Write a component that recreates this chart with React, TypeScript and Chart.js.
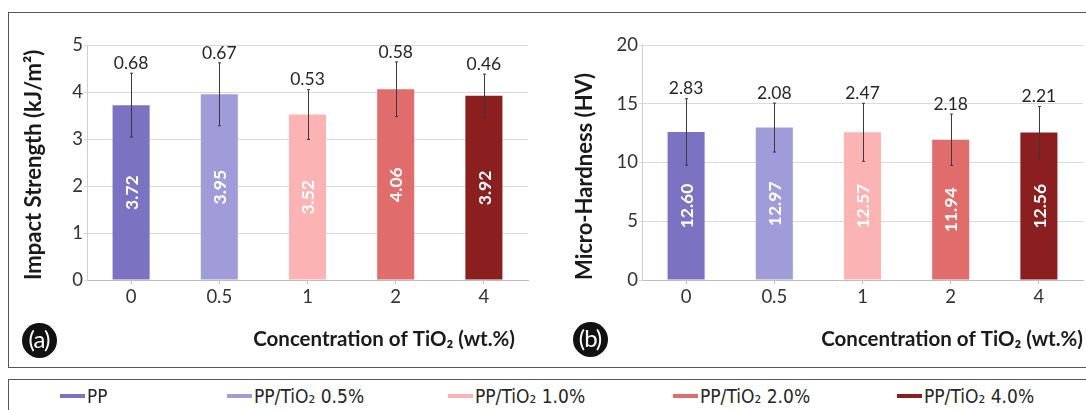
import React, { useEffect, useRef } from "react";
import { Chart, registerables } from "chart.js";

Chart.register(...registerables);

// ---------- data ----------
const categories = ["0", "0.5", "1", "2", "4"];
const seriesNames = ["PP", "PP/TiO₂ 0.5%", "PP/TiO₂ 1.0%", "PP/TiO₂ 2.0%", "PP/TiO₂ 4.0%"];
const seriesColors = ["#7b73c1", "#a09cda", "#fbb3b3", "#e06c6c", "#8b1f1f"];

const impactMeans = [3.72, 3.95, 3.52, 4.06, 3.92];
const impactErrors = [0.68, 0.67, 0.53, 0.58, 0.46];
const impactAxis = { max: 5, step: 1 };

const hardnessMeans = [12.6, 12.97, 12.57, 11.94, 12.56];
const hardnessErrors = [2.83, 2.08, 2.47, 2.18, 2.21];
const hardnessAxis = { max: 20, step: 5 };

const impactTitle = "Impact Strength (kJ/m²)";
const hardnessTitle = "Micro-Hardness (HV)";
const xTitle = "Concentration of TiO₂ (wt.%)";

// ---------- layout ----------
const FONT = "Lato, 'Open Sans', sans-serif";
const PLOT_TOP = 45;
const PLOT_BOTTOM = 280;
const CANVAS_H = 368;
const Y_TITLE_SIZE = 22;
const X_TITLE_SIZE = 20.5;
const legendLefts = [60, 227, 448, 673, 897];

type PanelProps = {
  left: number;
  width: number;
  axisWidth: number;
  padRight: number;
  yTitleCenter: number;
  xTitleInset: number;
  means: number[];
  errors: number[];
  axis: { max: number; step: number };
  yTitle: string;
};

const annotatePlugin = {
  id: "annotate",
  afterDatasetsDraw(chart: any, _args: any, opts: any) {
    const { ctx, chartArea } = chart;
    const meta = chart.getDatasetMeta(0);
    const yScale = chart.scales.y;
    ctx.save();
    meta.data.forEach((bar: any, i: number) => {
      const v = opts.means[i];
      const e = opts.errors[i];
      const x = Math.round(bar.x) + 0.5;
      const yTop = yScale.getPixelForValue(v + e);
      const yBot = yScale.getPixelForValue(v - e);
      ctx.strokeStyle = "#3a3a3a";
      ctx.lineWidth = 1;
      ctx.beginPath();
      ctx.moveTo(x, yTop);
      ctx.lineTo(x, yBot);
      ctx.moveTo(x - 1.5, yTop);
      ctx.lineTo(x + 1.5, yTop);
      ctx.moveTo(x - 1.5, yBot);
      ctx.lineTo(x + 1.5, yBot);
      ctx.stroke();

      ctx.fillStyle = "#262626";
      ctx.font = `17.5px ${FONT}`;
      ctx.textAlign = "center";
      ctx.textBaseline = "middle";
      ctx.fillText(e.toFixed(2), bar.x, yTop - 10);

      const yBase = yScale.getPixelForValue(0);
      const yMid = (bar.y + yBase) / 2;
      ctx.save();
      ctx.translate(bar.x, yMid);
      ctx.rotate(-Math.PI / 2);
      ctx.fillStyle = "#ffffff";
      ctx.font = `bold 17.5px ${FONT}`;
      ctx.fillText(v.toFixed(2), 0, 1);
      ctx.restore();
    });
    ctx.fillStyle = "#1a1a1a";
    ctx.font = `bold ${X_TITLE_SIZE}px ${FONT}`;
    ctx.textAlign = "right";
    ctx.textBaseline = "middle";
    ctx.fillText(opts.xTitle, chartArea.right - opts.xTitleInset, 339);
    ctx.restore();
  },
};

function Panel(p: PanelProps) {
  const ref = useRef<HTMLCanvasElement | null>(null);
  useEffect(() => {
    if (!ref.current) return;
    const chart = new Chart(ref.current, {
      type: "bar",
      data: {
        labels: categories,
        datasets: [
          {
            label: p.yTitle,
            data: p.means,
            backgroundColor: seriesColors,
            borderWidth: 0,
            barPercentage: 0.42,
            categoryPercentage: 1,
          },
        ],
      },
      options: {
        responsive: false,
        animation: false,
        events: [],
        layout: { padding: { top: PLOT_TOP, right: p.padRight, left: 0, bottom: 0 } },
        plugins: {
          legend: { display: false },
          tooltip: { enabled: false },
          annotate: { means: p.means, errors: p.errors, xTitle, xTitleInset: p.xTitleInset },
        } as any,
        scales: {
          x: {
            type: "category",
            afterFit: (s: any) => {
              s.height = CANVAS_H - PLOT_BOTTOM;
            },
            grid: {
              display: true,
              drawOnChartArea: false,
              drawTicks: true,
              tickLength: 4,
              offset: false,
              color: "#bfbfbf",
              tickColor: "#bfbfbf",
            },
            border: { display: true, color: "#bfbfbf", width: 1 },
            ticks: { font: { family: FONT, size: 18.5 }, color: "#333333", padding: 2 },
          },
          y: {
            type: "linear",
            min: 0,
            max: p.axis.max,
            afterFit: (s: any) => {
              s.width = p.axisWidth;
            },
            ticks: {
              stepSize: p.axis.step,
              font: { family: FONT, size: 18.5 },
              color: "#333333",
              padding: 1,
            },
            grid: { color: "#d9d9d9", tickLength: 3, drawTicks: true },
            border: { display: true, color: "#d0d0d0" },
            title: {
              display: true,
              text: p.yTitle,
              align: "start",
              color: "#1a1a1a",
              font: { family: FONT, size: Y_TITLE_SIZE, weight: "bold" },
              padding: { top: p.yTitleCenter - (Y_TITLE_SIZE * 1.2) / 2, bottom: 0 },
            },
          },
        } as any,
      },
      plugins: [annotatePlugin as any],
    });
    return () => chart.destroy();
  }, []);
  return (
    <canvas
      ref={ref}
      width={p.width}
      height={CANVAS_H}
      style={{ position: "absolute", left: p.left, top: 0, width: p.width, height: CANVAS_H }}
    />
  );
}

function Badge({ text, cx, cy }: { text: string; cx: number; cy: number }) {
  return (
    <div
      style={{
        position: "absolute",
        left: cx - 17.5,
        top: cy - 17.5,
        width: 35,
        height: 35,
        borderRadius: "50%",
        background: "#111",
        color: "#fff",
        display: "flex",
        alignItems: "center",
        justifyContent: "center",
        fontFamily: FONT,
        fontSize: 24,
        lineHeight: 1,
        letterSpacing: -1,
      }}
    >
      <span style={{ marginTop: -2 }}>{text}</span>
    </div>
  );
}

export default function App() {
  return (
    <div
      style={{
        position: "absolute",
        left: 0,
        top: 0,
        width: 1086,
        height: 410,
        background: "#ffffff",
        overflow: "hidden",
      }}
    >
      <div
        style={{
          position: "absolute",
          left: 8,
          top: 12,
          width: 1100,
          height: 356,
          border: "1.5px solid #555",
          boxSizing: "border-box",
        }}
      />
      <div
        style={{
          position: "absolute",
          left: 8,
          top: 379,
          width: 1100,
          height: 60,
          border: "1.5px solid #555",
          boxSizing: "border-box",
        }}
      />
      <Panel
        left={0}
        width={545}
        axisWidth={87}
        padRight={17}
        yTitleCenter={33.5}
        xTitleInset={13}
        means={impactMeans}
        errors={impactErrors}
        axis={impactAxis}
        yTitle={impactTitle}
      />
      <Panel
        left={540}
        width={546}
        axisWidth={102}
        padRight={3}
        yTitleCenter={45}
        xTitleInset={0}
        means={hardnessMeans}
        errors={hardnessErrors}
        axis={hardnessAxis}
        yTitle={hardnessTitle}
      />
      <Badge text="(a)" cx={39} cy={340} />
      <Badge text="(b)" cx={590} cy={339} />
      {seriesNames.map((name, i) => (
        <div
          key={name}
          style={{
            position: "absolute",
            left: legendLefts[i],
            top: 386,
            height: 20,
            display: "flex",
            alignItems: "center",
            whiteSpace: "nowrap",
          }}
        >
          <div style={{ width: 25, height: 4, background: seriesColors[i], marginRight: 2 }} />
          <span
            style={{
              fontFamily: "'Liberation Sans Narrow', 'DejaVu Sans Condensed', sans-serif",
              fontSize: 19,
              color: "#262626",
              lineHeight: "20px",
            }}
          >
            {name}
          </span>
        </div>
      ))}
    </div>
  );
}
